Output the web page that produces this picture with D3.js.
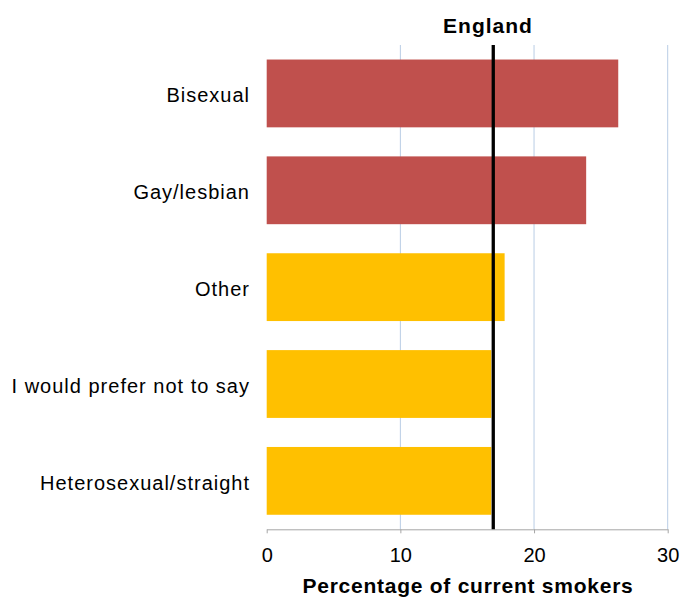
<!DOCTYPE html>
<html><head><meta charset="utf-8">
<script src="https://cdn.jsdelivr.net/npm/d3@7"></script>
<style>body{margin:0;background:#fff}svg{display:block}text{font-family:"Liberation Sans",Arial,sans-serif}</style>
</head><body><svg id="c" width="683" height="598"></svg>
<script>
const categories = ["Bisexual","Gay/lesbian","Other","I would prefer not to say","Heterosexual/straight"];
const values = [26.3, 23.9, 17.8, 16.8, 16.8];
const groups = ["lgb","lgb","other","other","other"];
const englandValue = 16.95;
const xTicks = [0,10,20,30];
const colors = {lgb:"#C0504D", other:"#FFC000"};

const svg = d3.select("#c");
const x = d3.scaleLinear().domain([0,30]).range([266.7,667.7]);
const y = d3.scaleBand().domain(categories).range([45,529.3]).paddingInner(0.3).paddingOuter(0.15);

svg.append("g").selectAll("line").data(xTicks.slice(1)).join("line")
  .attr("x1",d=>x(d)).attr("x2",d=>x(d)).attr("y1",45).attr("y2",529.3)
  .attr("stroke","#B9CDE5").attr("stroke-width",1);

svg.append("g").selectAll("rect").data(categories).join("rect")
  .attr("x",x(0)).attr("y",d=>y(d)).attr("height",y.bandwidth())
  .attr("width",(d,i)=>x(values[i])-x(0)).attr("fill",(d,i)=>colors[groups[i]]);

const ax = svg.append("g").attr("transform","translate(0,529.3)")
  .call(d3.axisBottom(x).tickValues(xTicks).tickSize(4).tickPadding(15).tickSizeOuter(0));
ax.select(".domain").attr("stroke","#A6A6A6");
ax.selectAll(".tick line").attr("stroke","#A6A6A6");
ax.selectAll("text").attr("font-size",20).attr("fill","#000").attr("font-family","Liberation Sans, Arial, sans-serif");

svg.append("g").selectAll("text").data(categories).join("text")
  .attr("x",250).attr("y",d=>y(d)+y.bandwidth()/2).attr("dy","0.45em")
  .attr("text-anchor","end").attr("font-size",20).attr("letter-spacing",1).attr("fill","#000").text(d=>d);

svg.append("line").attr("x1",x(englandValue)).attr("x2",x(englandValue))
  .attr("y1",45).attr("y2",529.3).attr("stroke","#000").attr("stroke-width",3.3);
svg.append("text").attr("x",488).attr("y",33).attr("text-anchor","middle")
  .attr("font-size",21).attr("font-weight","bold").attr("letter-spacing",1).text("England");

svg.append("text").attr("x",468).attr("y",592.5).attr("text-anchor","middle")
  .attr("font-size",21).attr("font-weight","bold").attr("letter-spacing",0.75).text("Percentage of current smokers");
</script></body></html>
